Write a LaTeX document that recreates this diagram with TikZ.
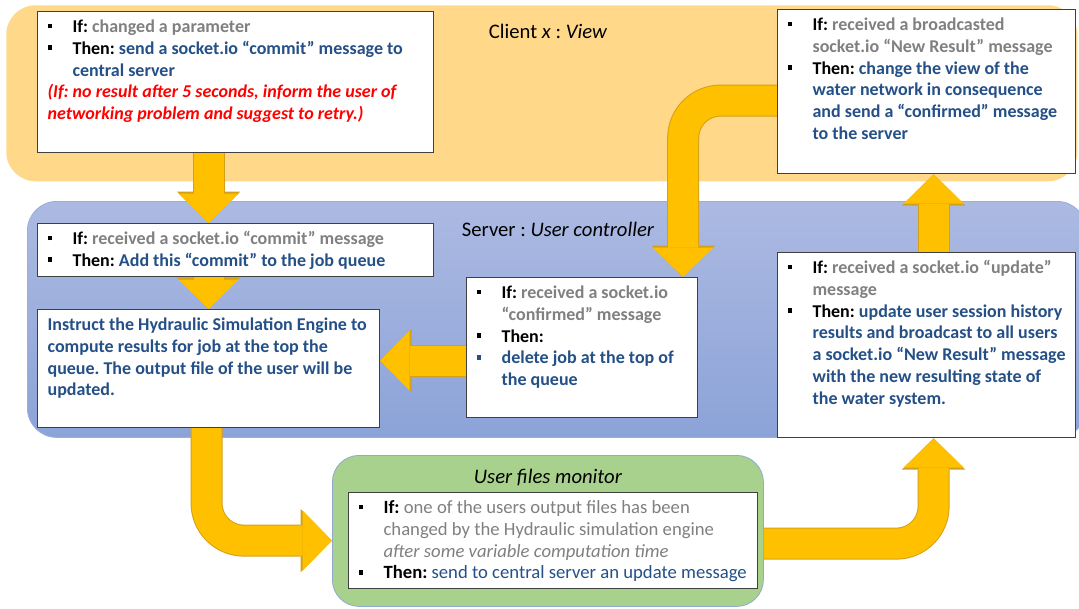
\documentclass[tikz,border=0pt]{standalone}
\usepackage{fontspec}
\setmainfont{Carlito}
\usepackage{xcolor}
\usepackage{tikz}
\usetikzlibrary{arrows.meta, positioning, calc, backgrounds}
\definecolor{clientorange}{RGB}{255,216,138}
\definecolor{servertop}{RGB}{172,186,226}
\definecolor{serverbottom}{RGB}{140,163,216}
\definecolor{serveredge}{RGB}{150,175,220}
\definecolor{monitorgreen}{RGB}{169,209,142}
\definecolor{monitoredge}{RGB}{143,170,205}
\definecolor{flowyellow}{RGB}{255,192,0}
\definecolor{flowedge}{RGB}{212,160,23}
\definecolor{boxedge}{RGB}{64,64,64}
\definecolor{condgrey}{RGB}{128,128,128}
\definecolor{actionblue}{RGB}{36,80,135}
\definecolor{alertred}{RGB}{255,0,0}
\frenchspacing

% bullet item with hanging indent, and a box body of fixed size
\newcommand{\itm}[2][black]{\par\hangindent=18.75pt\hangafter=1\noindent\makebox[18.75pt][l]{\textcolor{#1}{\rule[3.2pt]{3.6pt}{3.6pt}}}\strut#2}
\newcommand{\boxbody}[3]{\parbox[t][#2][t]{#1}{\leftskip=7.5pt\rightskip=0pt plus 1fil\parfillskip=0pt plus 1fil\relax#3}}

\begin{document}
\begin{tikzpicture}[
    x=0.75pt, y=-0.75pt,
    panel/.style={anchor=north west, inner sep=0pt, rounded corners=22pt},
    title/.style={font=\fontsize{15.5pt}{18pt}\selectfont},
    msgbox/.style={draw=boxedge, fill=white, line width=0.9pt, anchor=north west,
                   inner xsep=0pt, inner ysep=4.4pt, font=\fontsize{13.5pt}{16.3pt}\selectfont\bfseries},
    flow/.style={draw=flowyellow, line width=22.5pt,
                 -{Triangle[width=45pt, length=22pt, line width=0pt]},
                 preaction={draw=flowedge, line width=24pt,
                            -{Triangle[width=47.5pt, length=23.5pt, line width=0pt]}}}
]
    \useasboundingbox (0,0) rectangle (1079,608);
    \clip (0,0) rectangle (1079,608);

    % Panels
    \begin{scope}[on background layer]
        \node[panel, fill=clientorange, minimum width=803.25pt, minimum height=132pt] (client) at (6,5) {};
        \node[panel, top color=servertop, bottom color=serverbottom, draw=serveredge, line width=0.6pt,
              minimum width=794.25pt, minimum height=177pt] (server) at (27,201) {};
        \node[panel, rounded corners=20pt, fill=monitorgreen, draw=monitoredge, line width=0.6pt,
              minimum width=323.25pt, minimum height=113.25pt] (monitor) at (332,455) {};
    \end{scope}
    \node[title] (clientlbl) at (548,31) {Client \textit{x} : \textit{View}};
    \node[title] (serverlbl) at (558,229) {Server : \textit{User controller}};
    \node[title] (monitorlbl) at (548,478) {\textit{User files monitor}};

    % Client x
    \node[msgbox] (boxA) at (37,11) {\boxbody{297pt}{96.95pt}{%
        \itm{If: \textcolor{condgrey}{changed a parameter}}
        \itm{Then: \textcolor{actionblue}{send a socket.io “commit” message to\\central server}}
        \par\noindent\strut\textcolor{alertred}{\itshape (If: no result after 5 seconds, inform the user of\\networking problem and suggest to retry.)}}};
    \node[msgbox] (boxB) at (777,9) {\boxbody{223.5pt}{114.2pt}{%
        \itm{If: \textcolor{condgrey}{received a broadcasted\\socket.io “New Result” message}}
        \itm{Then: \textcolor{actionblue}{change the view of the\\water network in consequence\\and send a “confirmed” message\\to the server}}}};

    % Server
    \node[msgbox] (boxC) at (37,223) {\boxbody{297pt}{30.95pt}{%
        \itm{If: \textcolor{condgrey}{received a socket.io “commit” message}}
        \itm{Then: \textcolor{actionblue}{Add this “commit” to the job queue}}}};
    \node[msgbox] (boxD) at (37,309) {\boxbody{256.5pt}{79.7pt}{%
        \strut\textcolor{actionblue}{Instruct the Hydraulic Simulation Engine to\\compute results for job at the top the\\queue. The output file of the user will be\\updated.}}};
    \node[msgbox] (boxE) at (466,277) {\boxbody{173.25pt}{96.2pt}{%
        \itm{If: \textcolor{condgrey}{received a socket.io\\“confirmed” message}}
        \itm{Then:}
        \itm[actionblue]{\textcolor{actionblue}{delete job at the top of\\the queue}}}};
    \node[msgbox] (boxF) at (777,252) {\boxbody{223.5pt}{129.95pt}{%
        \itm{If: \textcolor{condgrey}{received a socket.io “update”\\message}}
        \itm{Then: \textcolor{actionblue}{update user session history\\results and broadcast to all users\\a socket.io “New Result” message\\with the new resulting state of\\the water system.}}}};

    % User files monitor
    \node[msgbox, font=\fontsize{14pt}{16.3pt}\selectfont\bfseries] (boxG) at (348,492) {\boxbody{306.75pt}{63.2pt}{%
        \itm{If: \textcolor{condgrey}{\mdseries one of the users output files has been\\changed by the Hydraulic simulation engine\\\textit{after some variable computation time}}}
        \itm{Then: \textcolor{actionblue}{\mdseries send to central server an update message}}}};

    % Arrows
    \begin{scope}[on background layer]
        \draw[flow] (boxA.south -| boxD.north) -- (boxC.north -| boxD.north);
        \draw[flow] (boxC.south -| boxD.north) -- (boxD.north);
        \draw[flow] ($(boxE.west)+(0,13)$) -- ($(boxD.east)+(0,-8)$);
        \draw[flow, rounded corners=28pt] ($(boxB.west)+(2,9)$) -| ($(boxE.north east)+(-15,0)$);
        \draw[flow] ($(boxF.north)+(7,0)$) -- ($(boxB.south)+(7,0)$);
        \draw[flow, rounded corners=28pt] ($(boxD.south)+(-2,-2)$) |- (boxG.west -| monitor.west);
        \draw[flow, rounded corners=28pt] ($(monitor.east |- boxG.west)+(0,3)$) -| ($(boxF.south)+(7,0)$);
    \end{scope}
\end{tikzpicture}
\end{document}
